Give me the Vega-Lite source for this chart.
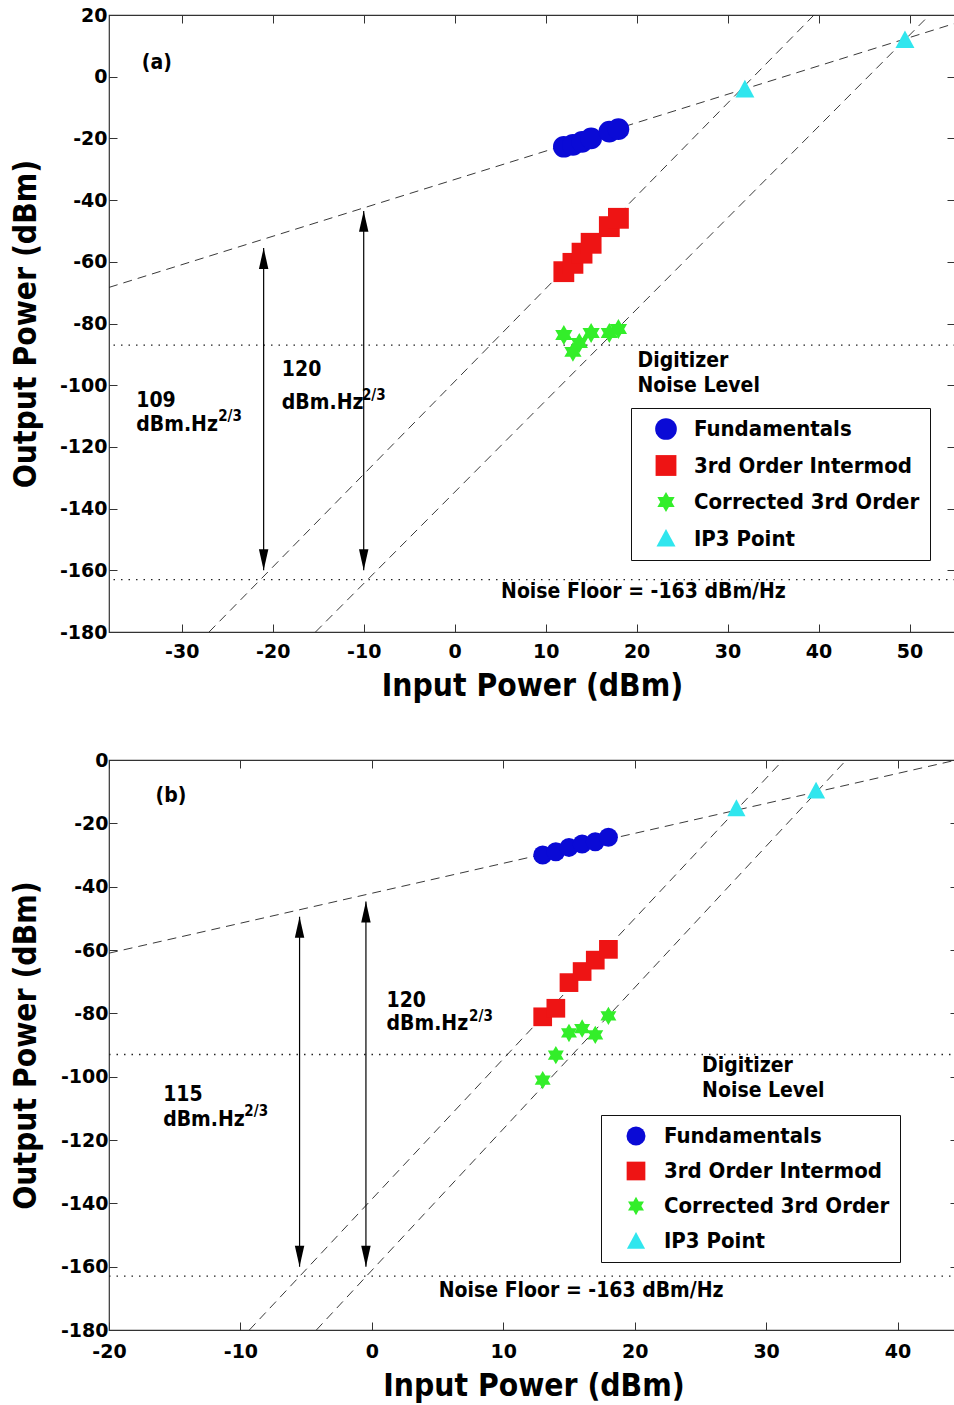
{
  "$schema": "https://vega.github.io/schema/vega-lite/v6.json",
  "background": "white",
  "padding": {"left": 9, "top": 5, "right": 0, "bottom": 0},
  "config": {
    "view": {"stroke": "#333", "strokeWidth": 1.2},
    "axis": {
      "grid": false, "domain": false, "tickSize": -8, "tickColor": "#333", "tickWidth": 1,
      "labelFont": "DejaVu Sans", "labelFontWeight": "bold", "labelFontSize": 19, "labelColor": "black",
      "labelFlush": false, "labelOverlap": false, "labelExpr": "'' + datum.value",
      "titleFont": "DejaVu Sans Condensed", "titleFontWeight": "bold", "titleFontSize": 31.5, "titleColor": "black"
    },
    "legend": {
      "labelFont": "DejaVu Sans Condensed", "labelFontWeight": "bold", "labelFontSize": 22, "labelColor": "black",
      "labelLimit": 400, "strokeColor": "#111", "fillColor": "white", "padding": 10, "rowPadding": 14.5,
      "symbolOffset": 14, "labelOffset": 17, "symbolStrokeWidth": 0, "cornerRadius": 0
    }
  },
  "bounds": "flush",
  "spacing": 128,
  "resolve": {
    "scale": {"x": "independent", "y": "independent", "color": "independent", "shape": "independent", "size": "independent"},
    "legend": {"color": "independent", "shape": "independent", "size": "independent"}
  },
  "vconcat": [
    {
      "width": 846,
      "height": 617,
      "resolve": {"axis": {"x": "independent", "y": "independent"}},
      "layer": [
        {
          "data": {"values": [
            {"line": "fund", "x": -38, "y": -68.3}, {"line": "fund", "x": 55, "y": 17.3},
            {"line": "im3", "x": -27, "y": -180}, {"line": "im3", "x": 39.5, "y": 20},
            {"line": "cor", "x": -15.3, "y": -180}, {"line": "cor", "x": 52.2, "y": 20}
          ]},
          "mark": {"type": "line", "strokeDash": [9, 6], "color": "#222", "strokeWidth": 0.9, "clip": true},
          "encoding": {
            "x": {"field": "x", "type": "quantitative", "scale": {"domain": [-38, 55], "nice": false, "zero": false},
                  "axis": {"orient": "bottom", "values": [-30, -20, -10, 0, 10, 20, 30, 40, 50], "title": "Input Power (dBm)", "labelPadding": 18, "titlePadding": 9}},
            "y": {"field": "y", "type": "quantitative", "scale": {"domain": [-180, 20], "nice": false, "zero": false},
                  "axis": {"orient": "left", "values": [-180, -160, -140, -120, -100, -80, -60, -40, -20, 0, 20], "title": "Output Power (dBm)", "labelPadding": 10, "titlePadding": 17}},
            "detail": {"field": "line"}
          }
        },
        {
          "data": {"values": [{"level": -87}, {"level": -163}]},
          "mark": {"type": "rule", "strokeDash": [1.5, 6], "color": "#222", "strokeWidth": 1.3},
          "encoding": {"y": {"field": "level", "type": "quantitative", "axis": null}}
        },
        {
          "data": {"values": [{"x": -21, "lo": -160, "hi": -55.5}, {"x": -10, "lo": -160, "hi": -43.5}]},
          "layer": [
            {
              "mark": {"type": "rule", "color": "black", "strokeWidth": 1.2},
              "encoding": {
                "x": {"field": "x", "type": "quantitative", "axis": null},
                "y": {"field": "lo", "type": "quantitative", "axis": null},
                "y2": {"field": "hi"}
              }
            },
            {
              "mark": {"type": "point", "shape": "M0,0L0.45,2L-0.45,2Z", "filled": true, "color": "black", "opacity": 1, "size": 440},
              "encoding": {
                "x": {"field": "x", "type": "quantitative", "axis": null},
                "y": {"field": "hi", "type": "quantitative", "axis": null}
              }
            },
            {
              "mark": {"type": "point", "shape": "M0,0L0.45,-2L-0.45,-2Z", "filled": true, "color": "black", "opacity": 1, "size": 440},
              "encoding": {
                "x": {"field": "x", "type": "quantitative", "axis": null},
                "y": {"field": "lo", "type": "quantitative", "axis": null}
              }
            }
          ]
        },
        {
          "data": {"values": [
            {"series": "Fundamentals", "x": 12, "y": -22.7}, {"series": "Fundamentals", "x": 13, "y": -22.1},
            {"series": "Fundamentals", "x": 14, "y": -21.1}, {"series": "Fundamentals", "x": 15, "y": -20.0},
            {"series": "Fundamentals", "x": 17, "y": -17.8}, {"series": "Fundamentals", "x": 18, "y": -17.0},
            {"series": "3rd Order Intermod", "x": 12, "y": -63.2}, {"series": "3rd Order Intermod", "x": 13, "y": -60.5},
            {"series": "3rd Order Intermod", "x": 14, "y": -57.2}, {"series": "3rd Order Intermod", "x": 15, "y": -54.0},
            {"series": "3rd Order Intermod", "x": 17, "y": -48.6}, {"series": "3rd Order Intermod", "x": 18, "y": -45.9},
            {"series": "Corrected 3rd Order", "x": 12, "y": -83.7}, {"series": "Corrected 3rd Order", "x": 13, "y": -89.2},
            {"series": "Corrected 3rd Order", "x": 13.7, "y": -86.3}, {"series": "Corrected 3rd Order", "x": 15, "y": -83.1},
            {"series": "Corrected 3rd Order", "x": 17, "y": -83.1}, {"series": "Corrected 3rd Order", "x": 18, "y": -81.8},
            {"series": "IP3 Point", "x": 31.9, "y": -4.1}, {"series": "IP3 Point", "x": 49.5, "y": 11.9}
          ]},
          "mark": {"type": "point", "filled": true, "opacity": 1, "strokeWidth": 0},
          "encoding": {
            "x": {"field": "x", "type": "quantitative", "axis": {"orient": "top", "labels": false, "title": null, "values": [-30, -20, -10, 0, 10, 20, 30, 40, 50]}},
            "y": {"field": "y", "type": "quantitative", "axis": {"orient": "right", "labels": false, "title": null, "values": [-180, -160, -140, -120, -100, -80, -60, -40, -20, 0, 20]}},
            "color": {"field": "series", "type": "nominal",
                      "scale": {"domain": ["Fundamentals", "3rd Order Intermod", "Corrected 3rd Order", "IP3 Point"], "range": ["#0a0ad6", "#ee1414", "#33ee2a", "#30e6ee"]},
                      "legend": {"orient": "none", "legendX": 522, "legendY": 393, "title": null}},
            "shape": {"field": "series", "type": "nominal",
                      "scale": {"domain": ["Fundamentals", "3rd Order Intermod", "Corrected 3rd Order", "IP3 Point"],
                                "range": ["circle", "square", "M0,-1L0.289,-0.5L0.866,-0.5L0.577,0L0.866,0.5L0.289,0.5L0,1L-0.289,0.5L-0.866,0.5L-0.577,0L-0.866,-0.5L-0.289,-0.5Z", "M0,-1L1,0.85L-1,0.85Z"]},
                      "legend": {"orient": "none", "legendX": 522, "legendY": 393, "title": null}},
            "size": {"field": "series", "type": "nominal",
                     "scale": {"domain": ["Fundamentals", "3rd Order Intermod", "Corrected 3rd Order", "IP3 Point"], "range": [470, 361, 560, 500]},
                     "legend": {"orient": "none", "legendX": 522, "legendY": 393, "title": null}}
          }
        },
        {
          "data": {"values": [
            {"x": -34.4, "y": 4.4, "text": "(a)"},
            {"x": -35.0, "y": -105.1, "text": "109"},
            {"x": -35.0, "y": -112.9, "text": "dBm.Hz"},
            {"x": -19.0, "y": -95.2, "text": "120"},
            {"x": -19.0, "y": -105.8, "text": "dBm.Hz"},
            {"x": 20.1, "y": -92.2, "text": "Digitizer"},
            {"x": 20.1, "y": -100.3, "text": "Noise Level"},
            {"x": 5.1, "y": -167.0, "text": "Noise Floor = -163 dBm/Hz"}
          ]},
          "mark": {"type": "text", "font": "DejaVu Sans Condensed", "fontWeight": "bold", "fontSize": 21, "align": "left", "baseline": "middle", "color": "black"},
          "encoding": {
            "x": {"field": "x", "type": "quantitative", "axis": null},
            "y": {"field": "y", "type": "quantitative", "axis": null},
            "text": {"field": "text"}
          }
        },
        {
          "data": {"values": [
            {"x": -26.0, "y": -110.0, "text": "2/3"},
            {"x": -10.2, "y": -103.2, "text": "2/3"}
          ]},
          "mark": {"type": "text", "font": "DejaVu Sans Condensed", "fontWeight": "bold", "fontSize": 15, "align": "left", "baseline": "middle", "color": "black"},
          "encoding": {
            "x": {"field": "x", "type": "quantitative", "axis": null},
            "y": {"field": "y", "type": "quantitative", "axis": null},
            "text": {"field": "text"}
          }
        }
      ]
    },
    {
      "width": 849,
      "height": 570,
      "resolve": {"axis": {"x": "independent", "y": "independent"}},
      "layer": [
        {
          "data": {"values": [
            {"line": "fund", "x": -20, "y": -61}, {"line": "fund", "x": 44.6, "y": 0.1},
            {"line": "im3", "x": -9.32, "y": -180}, {"line": "im3", "x": 31.3, "y": 0},
            {"line": "cor", "x": -4.22, "y": -180}, {"line": "cor", "x": 36.1, "y": 0}
          ]},
          "mark": {"type": "line", "strokeDash": [9, 6], "color": "#222", "strokeWidth": 0.9, "clip": true},
          "encoding": {
            "x": {"field": "x", "type": "quantitative", "scale": {"domain": [-20, 44.6], "nice": false, "zero": false},
                  "axis": {"orient": "bottom", "values": [-20, -10, 0, 10, 20, 30, 40], "title": "Input Power (dBm)", "labelPadding": 20, "titlePadding": 9}},
            "y": {"field": "y", "type": "quantitative", "scale": {"domain": [-180, 0], "nice": false, "zero": false},
                  "axis": {"orient": "left", "values": [-180, -160, -140, -120, -100, -80, -60, -40, -20, 0], "title": "Output Power (dBm)", "labelPadding": 9, "titlePadding": 18}},
            "detail": {"field": "line"}
          }
        },
        {
          "data": {"values": [{"level": -93}, {"level": -163}]},
          "mark": {"type": "rule", "strokeDash": [1.5, 6], "color": "#222", "strokeWidth": 1.3},
          "encoding": {"y": {"field": "level", "type": "quantitative", "axis": null}}
        },
        {
          "data": {"values": [{"x": -5.5, "lo": -160, "hi": -49.5}, {"x": -0.45, "lo": -160, "hi": -44.7}]},
          "layer": [
            {
              "mark": {"type": "rule", "color": "black", "strokeWidth": 1.2},
              "encoding": {
                "x": {"field": "x", "type": "quantitative", "axis": null},
                "y": {"field": "lo", "type": "quantitative", "axis": null},
                "y2": {"field": "hi"}
              }
            },
            {
              "mark": {"type": "point", "shape": "M0,0L0.45,2L-0.45,2Z", "filled": true, "color": "black", "opacity": 1, "size": 440},
              "encoding": {
                "x": {"field": "x", "type": "quantitative", "axis": null},
                "y": {"field": "hi", "type": "quantitative", "axis": null}
              }
            },
            {
              "mark": {"type": "point", "shape": "M0,0L0.45,-2L-0.45,-2Z", "filled": true, "color": "black", "opacity": 1, "size": 440},
              "encoding": {
                "x": {"field": "x", "type": "quantitative", "axis": null},
                "y": {"field": "lo", "type": "quantitative", "axis": null}
              }
            }
          ]
        },
        {
          "data": {"values": [
            {"series": "Fundamentals", "x": 13, "y": -30.0}, {"series": "Fundamentals", "x": 14, "y": -29.0},
            {"series": "Fundamentals", "x": 15, "y": -27.6}, {"series": "Fundamentals", "x": 16, "y": -26.5},
            {"series": "Fundamentals", "x": 17, "y": -25.8}, {"series": "Fundamentals", "x": 18, "y": -24.4},
            {"series": "3rd Order Intermod", "x": 13, "y": -81.1}, {"series": "3rd Order Intermod", "x": 14, "y": -78.4},
            {"series": "3rd Order Intermod", "x": 15, "y": -70.3}, {"series": "3rd Order Intermod", "x": 16, "y": -66.8},
            {"series": "3rd Order Intermod", "x": 17, "y": -63.2}, {"series": "3rd Order Intermod", "x": 18, "y": -59.8},
            {"series": "Corrected 3rd Order", "x": 13, "y": -101.1}, {"series": "Corrected 3rd Order", "x": 14, "y": -93.2},
            {"series": "Corrected 3rd Order", "x": 15, "y": -86.2}, {"series": "Corrected 3rd Order", "x": 16, "y": -84.8},
            {"series": "Corrected 3rd Order", "x": 17, "y": -86.8}, {"series": "Corrected 3rd Order", "x": 18, "y": -80.8},
            {"series": "IP3 Point", "x": 27.74, "y": -15.3}, {"series": "IP3 Point", "x": 33.8, "y": -9.7}
          ]},
          "mark": {"type": "point", "filled": true, "opacity": 1, "strokeWidth": 0},
          "encoding": {
            "x": {"field": "x", "type": "quantitative", "axis": {"orient": "top", "labels": false, "title": null, "values": [-20, -10, 0, 10, 20, 30, 40]}},
            "y": {"field": "y", "type": "quantitative", "axis": {"orient": "right", "labels": false, "title": null, "values": [-180, -160, -140, -120, -100, -80, -60, -40, -20, 0]}},
            "color": {"field": "series", "type": "nominal",
                      "scale": {"domain": ["Fundamentals", "3rd Order Intermod", "Corrected 3rd Order", "IP3 Point"], "range": ["#0a0ad6", "#ee1414", "#33ee2a", "#30e6ee"]},
                      "legend": {"orient": "none", "legendX": 492, "legendY": 355, "title": null, "rowPadding": 13}},
            "shape": {"field": "series", "type": "nominal",
                      "scale": {"domain": ["Fundamentals", "3rd Order Intermod", "Corrected 3rd Order", "IP3 Point"],
                                "range": ["circle", "square", "M0,-1L0.289,-0.5L0.866,-0.5L0.577,0L0.866,0.5L0.289,0.5L0,1L-0.289,0.5L-0.866,0.5L-0.577,0L-0.866,-0.5L-0.289,-0.5Z", "M0,-1L1,0.85L-1,0.85Z"]},
                      "legend": {"orient": "none", "legendX": 492, "legendY": 355, "title": null, "rowPadding": 13}},
            "size": {"field": "series", "type": "nominal",
                     "scale": {"domain": ["Fundamentals", "3rd Order Intermod", "Corrected 3rd Order", "IP3 Point"], "range": [360, 330, 500, 480]},
                     "legend": {"orient": "none", "legendX": 492, "legendY": 355, "title": null, "rowPadding": 13}}
          }
        },
        {
          "data": {"values": [
            {"x": -16.46, "y": -11.4, "text": "(b)"},
            {"x": 1.12, "y": -76.2, "text": "120"},
            {"x": 1.12, "y": -83.4, "text": "dBm.Hz"},
            {"x": -15.88, "y": -105.8, "text": "115"},
            {"x": -15.88, "y": -113.7, "text": "dBm.Hz"},
            {"x": 25.13, "y": -96.6, "text": "Digitizer"},
            {"x": 25.13, "y": -104.6, "text": "Noise Level"},
            {"x": 5.09, "y": -167.6, "text": "Noise Floor = -163 dBm/Hz"}
          ]},
          "mark": {"type": "text", "font": "DejaVu Sans Condensed", "fontWeight": "bold", "fontSize": 21, "align": "left", "baseline": "middle", "color": "black"},
          "encoding": {
            "x": {"field": "x", "type": "quantitative", "axis": null},
            "y": {"field": "y", "type": "quantitative", "axis": null},
            "text": {"field": "text"}
          }
        },
        {
          "data": {"values": [
            {"x": 7.4, "y": -80.8, "text": "2/3"},
            {"x": -9.7, "y": -110.8, "text": "2/3"}
          ]},
          "mark": {"type": "text", "font": "DejaVu Sans Condensed", "fontWeight": "bold", "fontSize": 15, "align": "left", "baseline": "middle", "color": "black"},
          "encoding": {
            "x": {"field": "x", "type": "quantitative", "axis": null},
            "y": {"field": "y", "type": "quantitative", "axis": null},
            "text": {"field": "text"}
          }
        }
      ]
    }
  ]
}
